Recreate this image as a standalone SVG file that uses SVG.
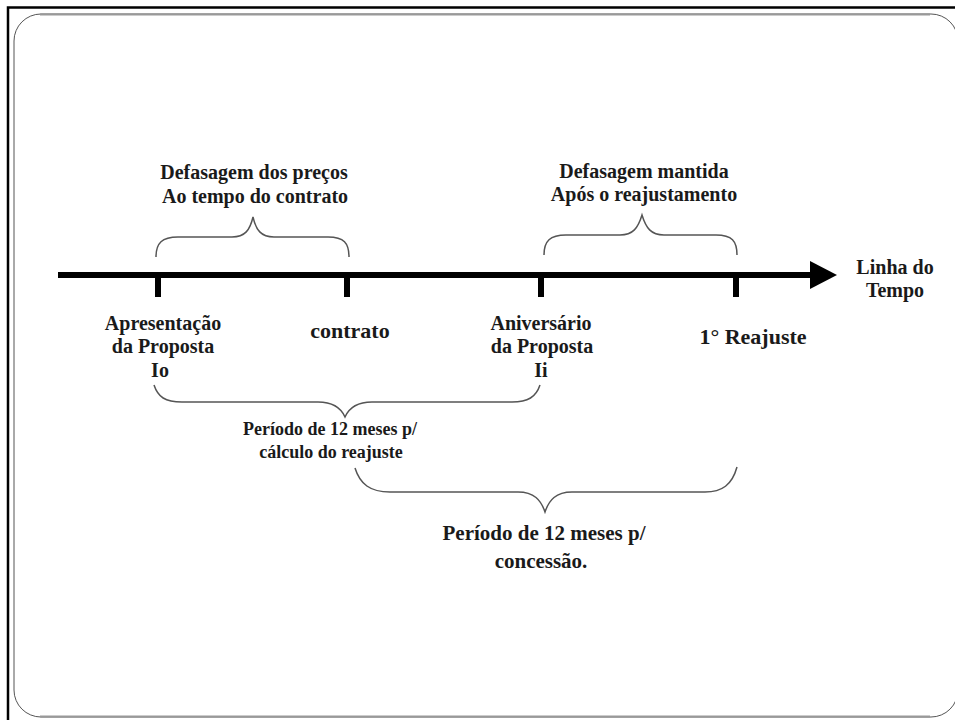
<svg xmlns="http://www.w3.org/2000/svg" width="955" height="720" viewBox="0 0 955 720">
<style>
text{font-family:"Liberation Serif","Times New Roman",serif;font-weight:bold;fill:#1a1a1a;text-anchor:middle}
.s20{font-size:20px}
.s18{font-size:18px}
.s21{font-size:21px}
.s22{font-size:22px}
.brace{fill:none;stroke:#555;stroke-width:1.5}
.tick{stroke:#000;stroke-width:6}
</style>
<rect x="0" y="0" width="955" height="720" fill="#fff"/>
<g id="frame">
<path d="M8,720 L8,7.5 L955,7.5" fill="none" stroke="#000" stroke-width="2.5"/>
<rect x="14" y="14" width="944" height="703" rx="27" ry="27" fill="none" stroke="#555" stroke-width="1"/>
<line x1="40" y1="14.5" x2="930" y2="14.5" stroke="#999" stroke-width="2"/>
<line x1="40" y1="716.5" x2="930" y2="716.5" stroke="#999" stroke-width="2"/>
</g>
<g id="timeline">
<line x1="58" y1="275" x2="812" y2="275" stroke="#000" stroke-width="6"/>
<polygon points="810,261 837,275 810,289" fill="#000"/>
</g>
<g id="connectors">
<line class="tick" x1="158" y1="275" x2="158" y2="297"/>
<line class="tick" x1="347" y1="275" x2="347" y2="297"/>
<line class="tick" x1="541" y1="275" x2="541" y2="297"/>
<line class="tick" x1="736" y1="275" x2="736" y2="297"/>
<path class="brace" d="M156,257 C156,243 162,237 178,237 L232,237 C245,237 250,230 253,217 C256,230 261,237 274,237 L328,237 C344,237 349,243 349,257"/>
<path class="brace" d="M544,255 C544,241 550,235 566,235 L620,235 C633,235 638,228 642,215 C646,228 651,235 664,235 L716,235 C732,235 737,241 737,255"/>
<path class="brace" d="M154,385 C158,397 165,402 182,402 L318,402 C333,402 341,408 345,417 C349,408 357,402 372,402 L512,402 C528,402 536,397 540,385"/>
<path class="brace" d="M355,468 C360,484 370,492 390,492 L518,492 C534,492 541,500 545,512 C549,500 556,492 572,492 L705,492 C722,492 732,485 737,467"/>
</g>
<g id="label-defasagem-precos">
<text class="s20" x="254" y="179">Defasagem dos preços</text>
<text class="s20" x="255" y="203">Ao tempo do contrato</text>
</g>
<g id="label-defasagem-mantida">
<text class="s20" x="644" y="178">Defasagem mantida</text>
<text class="s20" x="644" y="201">Após o reajustamento</text>
</g>
<g id="label-linha-tempo">
<text class="s20" x="895" y="274">Linha do</text>
<text class="s20" x="895" y="297">Tempo</text>
</g>
<g id="node-apresentacao">
<text class="s20" x="163" y="330">Apresentação</text>
<text class="s20" x="163" y="353">da Proposta</text>
<text class="s20" x="160" y="377">Io</text>
</g>
<g id="node-contrato">
<text class="s22" x="350" y="338">contrato</text>
</g>
<g id="node-aniversario">
<text class="s20" x="541" y="330">Aniversário</text>
<text class="s20" x="542" y="353">da Proposta</text>
<text class="s20" x="541" y="377">Ii</text>
</g>
<g id="node-reajuste">
<text class="s22" x="753" y="344">1° Reajuste</text>
</g>
<g id="label-periodo-calculo">
<text class="s18" x="330" y="435">Período de 12 meses p/</text>
<text class="s18" x="331" y="458">cálculo do reajuste</text>
</g>
<g id="label-periodo-concessao">
<text class="s21" x="544" y="540">Período de 12 meses p/</text>
<text class="s21" x="541" y="568">concessão.</text>
</g>
</svg>
